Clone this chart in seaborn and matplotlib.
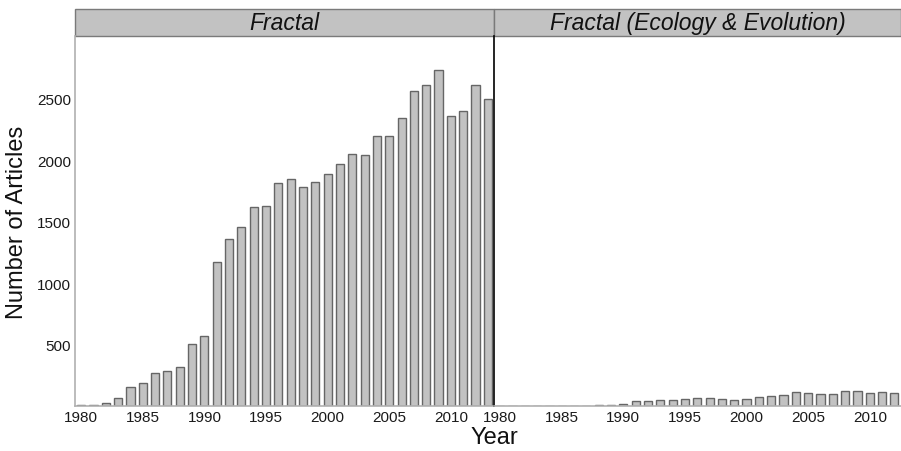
import matplotlib
matplotlib.use("Agg")
import matplotlib.pyplot as plt
from matplotlib.patches import Rectangle
import pandas as pd
import seaborn as sns

# Year range shared by both panels
years = list(range(1980, 2014))

# Articles mentioning "fractal" (all fields)
fractal_all = [10, 12, 25, 65, 155, 188, 270, 286, 320, 505,
               571, 1175, 1355, 1453, 1616, 1624, 1812, 1845, 1780, 1820,
               1886, 1967, 2049, 2041, 2198, 2193, 2340, 2563, 2615, 2732,
               2359, 2397, 2612, 2498]

# Articles mentioning "fractal" in Ecology & Evolution
fractal_eco = [0, 0, 0, 0, 0, 0, 0, 3, 5, 6,
               16, 38, 40, 49, 49, 55, 63, 63, 55, 46,
               55, 73, 79, 92, 117, 103, 95, 101, 120, 120,
               103, 112, 109, 110]

panel_titles = ["Fractal", "Fractal (Ecology & Evolution)"]
xtick_years = [1980, 1985, 1990, 1995, 2000, 2005, 2010]
ytick_vals = [500, 1000, 1500, 2000, 2500]


def draw_panel(ax, values, title, xmax):
    df = pd.DataFrame({"year": years, "n": values})
    sns.barplot(data=df, x="year", y="n", ax=ax, native_scale=True,
                width=0.66, color="#c2c2c2", edgecolor="#666666",
                linewidth=1, saturation=1)
    ax.set_xlim(1979.5, xmax)
    ax.set_ylim(0, 3010)
    ax.set_xticks(xtick_years)
    ax.set_xticklabels([str(y) for y in xtick_years])
    ax.tick_params(length=0, labelsize=11, colors="#1a1a1a", pad=3)
    ax.set_xlabel("")
    ax.set_ylabel("")
    for side in ["top", "right", "left"]:
        ax.spines[side].set_visible(False)
    ax.spines["bottom"].set_color("#b0b0b0")
    ax.spines["bottom"].set_linewidth(1.2)

    # facet strip on top
    strip_h = 27 / 370
    ax.add_patch(Rectangle((0, 1), 1, strip_h, transform=ax.transAxes,
                           clip_on=False, facecolor="#c2c2c2",
                           edgecolor="#7a7a7a", linewidth=1))
    ax.text(0.5, 1 + strip_h / 2, title, transform=ax.transAxes,
            ha="center", va="center", fontsize=16.5, style="italic",
            color="#111111")


def main():
    sns.set_theme()
    sns.set_style("white")
    plt.rcParams["font.family"] = ["Liberation Sans", "DejaVu Sans"]

    W, H = 901, 452
    fig = plt.figure(figsize=(W / 100, H / 100), dpi=100)
    ax1 = fig.add_axes([75 / W, 45 / H, 419 / W, 370 / H])
    ax2 = fig.add_axes([494 / W, 45 / H, 407 / W, 370 / H])

    draw_panel(ax1, fractal_all, panel_titles[0], 2013.5)
    draw_panel(ax2, fractal_eco, panel_titles[1], 1979.5 + 407 / 12.32)

    ax1.set_yticks(ytick_vals)
    ax1.set_yticklabels([str(v) for v in ytick_vals])
    ax1.spines["left"].set_visible(True)
    ax1.spines["left"].set_color("#b0b0b0")
    ax1.spines["left"].set_linewidth(1.2)
    ax2.set_yticks([])
    # black divider between the two facets
    ax2.spines["left"].set_visible(True)
    ax2.spines["left"].set_color("black")
    ax2.spines["left"].set_linewidth(1.2)

    ax1.set_ylabel("Number of Articles", fontsize=17, color="#111111",
                   labelpad=6)
    fig.text(494 / W, 1 - 438 / H, "Year", ha="center", va="center",
             fontsize=17, color="#111111")

    fig.savefig("out.png", dpi=100)


if __name__ == "__main__":
    main()
